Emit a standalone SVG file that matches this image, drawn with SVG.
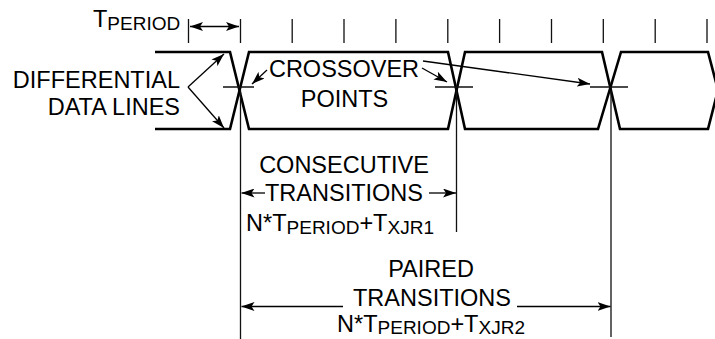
<svg xmlns="http://www.w3.org/2000/svg" width="715" height="339" viewBox="0 0 715 339">
<defs>
<marker id="ah" viewBox="0 0 13 9" refX="13" refY="4.5" markerWidth="13" markerHeight="9" markerUnits="userSpaceOnUse" orient="auto-start-reverse">
<path d="M0,0 L13,4.5 L0,9 L3,4.5 Z" fill="#000"/>
</marker>
<style>
text{font-family:"Liberation Sans",Arial,sans-serif;font-size:23.5px;fill:#000}
.sub{font-size:19px}
.wave{fill:none;stroke:#000;stroke-width:2.6;stroke-linejoin:miter}
.thin{fill:none;stroke:#111;stroke-width:1.3}
.arr{fill:none;stroke:#000;stroke-width:1.3;marker-end:url(#ah)}
.arr2{fill:none;stroke:#000;stroke-width:1.3;marker-start:url(#ah);marker-end:url(#ah)}
</style>
</defs>
<rect width="715" height="339" fill="#fff"/>
<g id="ticks" class="thin">
<path d="M188.5,19V43 M240.5,19V43 M292.2,19V43 M344,19V43 M395.9,19V43 M447.8,19V43 M499.6,19V43 M551.5,19V43 M603.3,19V43 M655.2,19V43 M707,19V43"/>
</g>
<g id="tperiod">
<text x="93" y="27">T<tspan class="sub" dy="3">PERIOD</tspan></text>
<line class="arr2" x1="190" y1="26.5" x2="239" y2="26.5"/>
</g>
<g id="waveform">
<path class="wave" d="M155,52 H230 L249,129 H448 L465,52 H602 L620,129 H708 L718,90"/>
<path class="wave" d="M155,129 H230 L249,52 H448 L465,129 H598 L621,52 H708 L718,90"/>
</g>
<g id="crossovers" class="thin">
<path d="M223,87H254 M435,87H473 M590,87H628"/>
<path d="M240.5,90V339 M456.5,90V232 M611,90V337"/>
</g>
<g id="differential">
<text x="180" y="88" text-anchor="end">DIFFERENTIAL</text>
<text x="180" y="115" text-anchor="end">DATA LINES</text>
</g>
<g id="crossover-label">
<text x="344" y="77" text-anchor="middle">CROSSOVER</text>
<text x="344.5" y="107" text-anchor="middle">POINTS</text>
</g>
<g id="consecutive">
<text x="344" y="173" text-anchor="middle">CONSECUTIVE</text>
<text x="344" y="201" text-anchor="middle">TRANSITIONS</text>
<text x="340" y="231" text-anchor="middle">N*T<tspan class="sub" dy="3">PERIOD</tspan><tspan dy="-3">+T</tspan><tspan class="sub" dy="3">XJR1</tspan></text>
</g>
<g id="paired">
<text x="431" y="277" text-anchor="middle">PAIRED</text>
<text x="432" y="306" text-anchor="middle">TRANSITIONS</text>
<text x="431" y="332" text-anchor="middle">N*T<tspan class="sub" dy="2">PERIOD</tspan><tspan dy="-2">+T</tspan><tspan class="sub" dy="2">XJR2</tspan></text>
</g>
<g id="connectors">
<line class="arr" x1="188" y1="87" x2="224" y2="54"/>
<line class="arr" x1="188" y1="87" x2="224" y2="128"/>
<line class="arr" x1="267" y1="70" x2="252" y2="84"/>
<line class="arr" x1="422" y1="68" x2="447" y2="82"/>
<line class="arr" x1="423" y1="61" x2="590" y2="84"/>
<line class="arr" x1="265" y1="193" x2="241.5" y2="193"/>
<line class="arr" x1="429" y1="193" x2="456" y2="193"/>
<line class="arr" x1="343" y1="306.5" x2="241.5" y2="306.5"/>
<line class="arr" x1="517" y1="306.5" x2="610.5" y2="306.5"/>
</g>
</svg>
